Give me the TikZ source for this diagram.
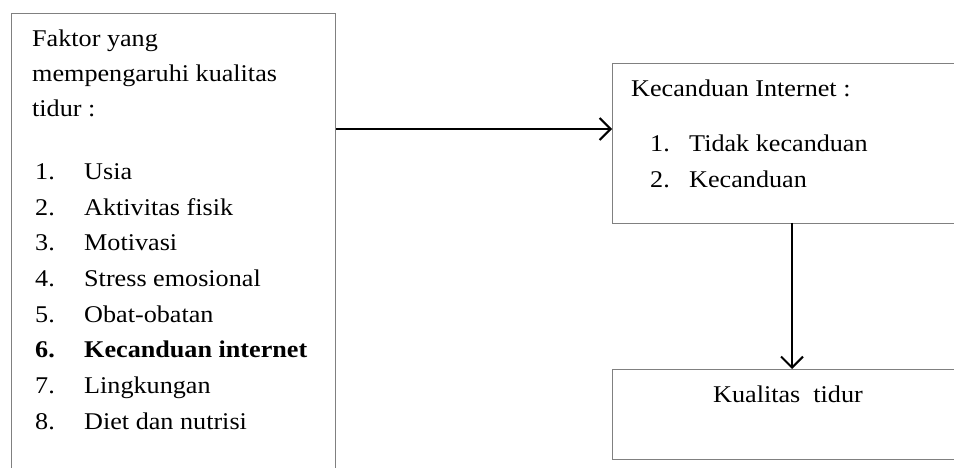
\documentclass[tikz,border=0pt]{standalone}
\usepackage{fontspec}
\setmainfont{Liberation Serif}[FakeStretch=1.09]
\usetikzlibrary{arrows.meta}
\begin{document}
\begin{tikzpicture}[x=1pt,y=-1pt,
  box/.style={draw=black!50,line width=1.2pt,rectangle,inner sep=0pt},
  txt/.style={inner sep=0pt,anchor=base west,font=\fontsize{24}{28}\selectfont},
  arr/.style={line width=2pt,-{Straight Barb[length=11pt,width=22pt,line width=2pt]}}]
\useasboundingbox (0,0) rectangle (954,468);
\clip (0,0) rectangle (954,468);
% boxes
\node[box,minimum width=324pt,minimum height=480pt,anchor=north west] (fak) at (11,13) {};
\node[box,minimum width=360pt,minimum height=160pt,anchor=north west] (kec) at (612,63) {};
\node[box,minimum width=360pt,minimum height=90pt,anchor=north west] (kt) at (612,369) {};
% left box text
\node[txt] (h1) at (32,47) {Faktor yang};
\node[txt] (h2) at (32,82) {mempengaruhi kualitas};
\node[txt] (h3) at (32,117) {tidur :};
\node[txt] (n1) at (35,180) {1.};  \node[txt] (i1) at (84,180) {Usia};
\node[txt] (n2) at (35,215) {2.};  \node[txt] (i2) at (84,215) {Aktivitas fisik};
\node[txt] (n3) at (35,251) {3.};  \node[txt] (i3) at (84,251) {Motivasi};
\node[txt] (n4) at (35,286) {4.};  \node[txt] (i4) at (84,286) {Stress emosional};
\node[txt] (n5) at (35,322) {5.};  \node[txt] (i5) at (84,322) {Obat-obatan};
\node[txt] (n6) at (35,357) {\bfseries 6.};  \node[txt] (i6) at (84,357) {\bfseries Kecanduan internet};
\node[txt] (n7) at (35,393) {7.};  \node[txt] (i7) at (84,393) {Lingkungan};
\node[txt] (n8) at (35,429) {8.};  \node[txt] (i8) at (84,429) {Diet dan nutrisi};
% right box text
\node[txt] (k0) at (631,97) {Kecanduan Internet :};
\node[txt] (k1) at (650,152) {1.}; \node[txt] (k1t) at (689,152) {Tidak kecanduan};
\node[txt] (k2) at (650,188) {2.}; \node[txt] (k2t) at (689,188) {Kecanduan};
\node[txt,anchor=base] (q) at (788,402) {Kualitas~ tidur};
% connectors
\coordinate (a1) at (336,129);
\draw[arr] (a1) -- (a1 -| kec.west);
\coordinate (a2) at (792,223);
\draw[arr] (a2) -- (a2 |- kt.north);
\end{tikzpicture}
\end{document}
